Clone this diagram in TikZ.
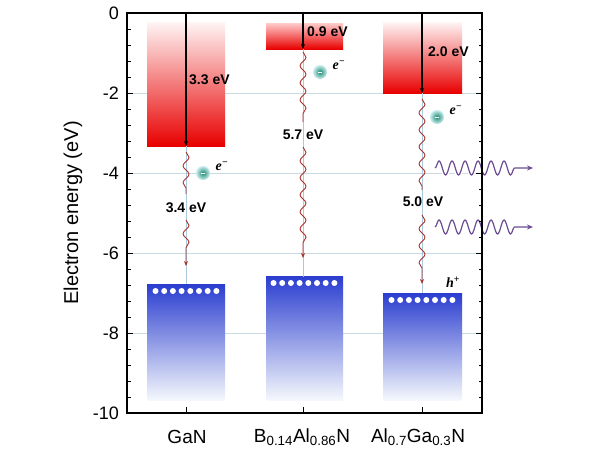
\documentclass[tikz,border=0pt]{standalone}
\usepackage{fontspec}
\setmainfont{Liberation Sans}
\newfontfamily\serifit{Liberation Serif}
\usetikzlibrary{decorations.pathmorphing,arrows.meta}
\definecolor{gridc}{HTML}{C9DAE3}
\definecolor{linkc}{HTML}{A9C9DF}
\definecolor{wavec}{HTML}{A8322C}
\definecolor{photonc}{HTML}{6A4C93}
\definecolor{barred}{HTML}{E80000}
\definecolor{bluetop}{HTML}{2A3DCF}
\definecolor{bluemid}{HTML}{8CAFDE}
\definecolor{bluebot}{HTML}{F5F8FC}
\definecolor{elin}{HTML}{1E8A6E}
\definecolor{elout}{HTML}{CDEFF2}
\tikzset{
  gridline/.style={draw=gridc, line width=0.9pt},
  linkline/.style={draw=linkc, line width=0.8pt},
  ticklbl/.style={anchor=east, inner sep=0pt, font=\fontsize{18}{20}\selectfont},
  catlbl/.style={inner sep=0pt, font=\fontsize{19}{22}\selectfont},
  gaplbl/.style={inner sep=1pt, font=\bfseries\fontsize{14}{16}\selectfont},
  gaparrow/.style={draw=black, line width=1.1pt, -{Stealth[length=5pt,width=4pt]}},
  redwave/.style={draw=wavec, line width=0.9pt, decorate,
    decoration={snake, segment length=17pt, amplitude=3pt}},
  redwavearrow/.style={draw=wavec, line width=0.9pt, decorate,
    decoration={snake, segment length=17pt, amplitude=3pt, post length=14pt},
    -{Stealth[length=5pt,width=4pt]}},
  photon/.style={line width=1.2pt, decorate,
    decoration={snake, segment length=13pt, amplitude=7pt, post length=12pt}},
  electron/.style={circle, minimum size=14pt, inner sep=0pt, inner color=elin, outer color=elout},
  elabel/.style={inner sep=0pt, font=\serifit\itshape\bfseries\fontsize{14}{16}\selectfont},
  wdot/.style={circle, fill=white, minimum size=6pt, inner sep=0pt}
}
\begin{document}
\begin{tikzpicture}[x=1pt,y=-1pt]
\useasboundingbox (0,0) rectangle (600,450);
\fill[white] (0,0) rectangle (600,450);
% grid lines
\foreach \v in {2,4,6,8} \draw[gridline] (127,13+40*\v) -- (482,13+40*\v);
% conduction bands
\shade[top color=red!4, bottom color=barred] (147,22) rectangle (225,146);
\shade[top color=red!20, bottom color=barred] (266,23) rectangle (343,49);
\shade[top color=red!4, bottom color=barred] (383,22) rectangle (462,93);
% valence bands
\shade[top color=bluetop, middle color=bluemid, bottom color=bluebot] (147,284) rectangle (225,400);
\shade[top color=bluetop, middle color=bluemid, bottom color=bluebot] (266,276) rectangle (343,400);
\shade[top color=bluetop, middle color=bluemid, bottom color=bluebot] (383,293) rectangle (462,400);
% holes (white dots)
\foreach \cx/\ty in {186/291, 304/283, 422/300}
  \foreach \k in {0,...,7}
    \node[wdot] at (\cx-30.5+8.7*\k,\ty) {};
% named coordinates
\coordinate (gc) at (186,146); \coordinate (gv) at (186,284);
\coordinate (bc) at (303,49);  \coordinate (bv) at (303,277);
\coordinate (ac) at (422,93);  \coordinate (av) at (422,293);
\coordinate (gt) at (186,13);  \coordinate (bt) at (303,13); \coordinate (at) at (422,13);
% link lines
\draw[linkline] (gc) -- (gv);
\draw[linkline] (bc) -- (bv);
\draw[linkline] (ac) -- (av);
% gap arrows
\draw[gaparrow] (gt) -- (gc);
\draw[gaparrow] (bt) -- (bc);
\draw[gaparrow] (at) -- (ac);
% red waves
\draw[redwave] (186,152) -- (186,194);
\draw[redwavearrow] (186,220) -- (186,266);
\draw[redwave] (303,52) -- (303,122);
\draw[redwavearrow] (303,147) -- (303,258);
\draw[redwave] (422,99) -- (422,190);
\draw[redwavearrow] (422,215) -- (422,284);
% gap labels
\node[gaplbl, anchor=west] (l33) at (188,80) {3.3 eV};
\node[gaplbl, anchor=west] (l09) at (306,32) {0.9 eV};
\node[gaplbl, anchor=west] (l20) at (427,52) {2.0 eV};
\node[gaplbl] (l34) at (186,208) {3.4 eV};
\node[gaplbl] (l57) at (303,135) {5.7 eV};
\node[gaplbl] (l50) at (423,202) {5.0 eV};
% electrons
\foreach \n/\x/\y in {e1/203/173, e2/320/72, e3/437/117}{
  \node[electron] (\n) at (\x,\y) {};
  \draw[white, line width=1pt] ([xshift=-2pt]\n.center) -- ([xshift=2pt]\n.center);
  \node[elabel] at (\x+19,\y-7) {e\textsuperscript{−}};
}
\node[elabel] (hp) at (453,282) {h\textsuperscript{+}};
% photons
\draw[photon, white, line width=4pt] (435,168) -- (522,168);
\draw[photon, white, line width=4pt] (435,227) -- (522,227);
\draw[photon, draw=photonc, -{Stealth[length=6pt,width=5pt]}] (435,168) -- (533,168);
\draw[photon, draw=photonc, -{Stealth[length=6pt,width=5pt]}] (435,227) -- (533,227);
% axes frame
\draw[line width=1.2pt] (127,13) rectangle (482,413);
\foreach \k in {0,...,25}{
  \pgfmathsetmacro{\yy}{13+16*\k}
  \draw[line width=0.9pt] (127,\yy) -- (130.5,\yy);
  \draw[line width=0.9pt] (482,\yy) -- (478.5,\yy);
}
\foreach \v in {0,2,4,6,8,10}{
  \draw[line width=1pt] (127,13+40*\v) -- (133,13+40*\v);
  \draw[line width=1pt] (482,13+40*\v) -- (476,13+40*\v);
}
\foreach \x in {186,303,422} \draw[line width=1pt] (\x,413) -- (\x,407);
% tick labels
\node[ticklbl] (t0) at (119,13) {0};
\node[ticklbl] (t2) at (119,93) {-2};
\node[ticklbl] (t4) at (119,173) {-4};
\node[ticklbl] (t6) at (119,253) {-6};
\node[ticklbl] (t8) at (119,333) {-8};
\node[ticklbl] (t10) at (119,413) {-10};
\node[rotate=90, inner sep=0pt, font=\fontsize{20}{22}\selectfont] (ylab) at (73,213) {Electron energy (eV)};
% category labels
\node[catlbl] (c1) at (187,437) {GaN};
\node[catlbl] (c2) at (302,437) {B\textsubscript{0.14}Al\textsubscript{0.86}N};
\node[catlbl] (c3) at (418,437) {Al\textsubscript{0.7}Ga\textsubscript{0.3}N};
\end{tikzpicture}
\end{document}
